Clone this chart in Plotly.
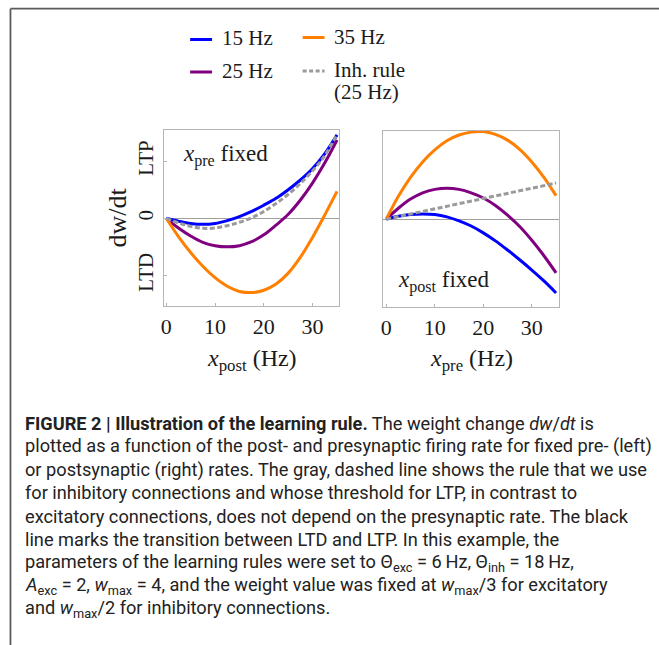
import plotly.graph_objects as go

W, H = 659, 645

# Firing rates (Hz) at which the curves are sampled
rate = [0, 2.5, 5, 7.5, 10, 12.5, 15, 17.5, 20, 22.5, 25, 27.5, 30, 32.5, 35]

# Left panel: dw/dt vs postsynaptic rate, presynaptic rate fixed
post_15 = [0, -0.05, -0.09, -0.105, -0.09, -0.04, 0.03, 0.12, 0.23, 0.35, 0.50, 0.67, 0.87, 1.13, 1.46]
post_25 = [0, -0.17, -0.31, -0.42, -0.48, -0.50, -0.48, -0.41, -0.29, -0.12, 0.07, 0.32, 0.62, 0.97, 1.37]
post_35 = [0, -0.32, -0.60, -0.84, -1.04, -1.19, -1.28, -1.30, -1.26, -1.15, -0.96, -0.68, -0.33, 0.06, 0.47]
post_inh = [0, -0.08, -0.14, -0.175, -0.17, -0.13, -0.07, 0.01, 0.12, 0.26, 0.42, 0.61, 0.83, 1.10, 1.47]

# Right panel: dw/dt vs presynaptic rate, postsynaptic rate fixed
pre_15 = [0, 0.05, 0.08, 0.09, 0.08, 0.04, -0.03, -0.12, -0.24, -0.38, -0.54, -0.71, -0.89, -1.08, -1.29]
pre_25 = [0, 0.19, 0.35, 0.46, 0.52, 0.54, 0.52, 0.46, 0.37, 0.24, 0.07, -0.13, -0.37, -0.64, -0.94]
pre_35 = [0, 0.40, 0.73, 1.00, 1.21, 1.37, 1.47, 1.52, 1.53, 1.48, 1.38, 1.22, 1.00, 0.73, 0.41]
inh_rate = [0, 35]
pre_inh = [0, 0.63]

series_labels = ["15 Hz", "25 Hz", "35 Hz", "Inh. rule"]
inh_note = "(25 Hz)"
series_colors = ["#0000ff", "#800080", "#ff7f00", "#9a9a9a"]

y_ticks = [-1, 0, 1]
y_tick_text = ["LTD", "0", "LTP"]
x_ticks = [0, 10, 20, 30]

caption_lines = [
    "<b>FIGURE 2 | Illustration of the learning rule.</b> The weight change <i>dw</i>/<i>dt</i> is",
    "plotted as a function of the post- and presynaptic firing rate for fixed pre- (left)",
    "or postsynaptic (right) rates. The gray, dashed line shows the rule that we use",
    "for inhibitory connections and whose threshold for LTP, in contrast to",
    "excitatory connections, does not depend on the presynaptic rate. The black",
    "line marks the transition between LTD and LTP. In this example, the",
    "parameters of the learning rules were set to \u0398<sub>exc</sub> = 6\u2009Hz, \u0398<sub>inh</sub> = 18\u2009Hz,",
    "<i>A</i><sub>exc</sub> = 2, <i>w</i><sub>max</sub> = 4, and the weight value was fixed at <i>w</i><sub>max</sub>/3 for excitatory",
    "and <i>w</i><sub>max</sub>/2 for inhibitory connections.",
]

SERIF = "Liberation Serif, Times New Roman, serif"
SANS = "Roboto, Arial, sans-serif"
INK = "#1a1a1a"


def px(x):
    return x / W


def py(y):
    return 1 - y / H


fig = go.Figure()

left_sets = [post_15, post_25, post_35]
right_sets = [pre_15, pre_25, pre_35]
for vals, col in zip(left_sets, series_colors[:3]):
    fig.add_trace(go.Scatter(x=rate, y=vals, mode="lines", line=dict(color=col, width=3, shape="spline"),
                             xaxis="x", yaxis="y", showlegend=False))
fig.add_trace(go.Scatter(x=rate, y=post_inh, mode="lines",
                         line=dict(color=series_colors[3], width=3, dash="5px,2.5px", shape="spline"),
                         xaxis="x", yaxis="y", showlegend=False))
for vals, col in zip(right_sets, series_colors[:3]):
    fig.add_trace(go.Scatter(x=rate, y=vals, mode="lines", line=dict(color=col, width=3, shape="spline"),
                             xaxis="x2", yaxis="y2", showlegend=False))
fig.add_trace(go.Scatter(x=inh_rate, y=pre_inh, mode="lines",
                         line=dict(color=series_colors[3], width=3, dash="5px,2.5px"),
                         xaxis="x2", yaxis="y2", showlegend=False))

axis_common = dict(showline=True, mirror=True, linecolor="#b5b5b5", linewidth=1, showgrid=False)
xcommon = dict(axis_common, zeroline=False, tickvals=x_ticks, ticks="inside", ticklen=3, tickcolor="#b5b5b5",
               tickfont=dict(family=SERIF, size=22, color=INK), ticklabelstandoff=1)
ycommon = dict(axis_common, range=[-1.535, 1.545], zeroline=True, zerolinecolor="#a0a0a0", zerolinewidth=1)

fig.update_layout(
    width=W, height=H, margin=dict(l=0, r=0, t=0, b=0),
    paper_bgcolor="white", plot_bgcolor="white", showlegend=False,
    xaxis=dict(xcommon, domain=[px(161.7), px(338)], range=[-0.47, 35.5], anchor="y"),
    yaxis=dict(ycommon, domain=[py(306), py(130)], anchor="x", tickvals=y_ticks, ticktext=y_tick_text,
               tickangle=-90, ticks="inside", ticklen=3, tickcolor="#b5b5b5",
               tickfont=dict(family=SERIF, size=21, color=INK), ticklabelstandoff=2),
    xaxis2=dict(xcommon, domain=[px(381.7), px(559)], range=[-0.68, 35.7], anchor="y2"),
    yaxis2=dict(ycommon, domain=[py(307), py(130.7)], anchor="x2", showticklabels=False, ticks=""),
)

annotations = []
shapes = []

# Panel labels and axis titles
annotations += [
    dict(text="<i>x</i><sub>pre</sub> fixed", x=px(179), y=py(155), xanchor="left", yanchor="middle",
         font=dict(family=SERIF, size=23, color=INK)),
    dict(text="<i>x</i><sub>post</sub> fixed", x=px(395), y=py(281), xanchor="left", yanchor="middle",
         font=dict(family=SERIF, size=23, color=INK)),
    dict(text="<i>x</i><sub>post</sub> (Hz)", x=px(249.8), y=py(360), xanchor="center", yanchor="middle",
         font=dict(family=SERIF, size=24, color=INK)),
    dict(text="<i>x</i><sub>pre</sub> (Hz)", x=px(470.3), y=py(360), xanchor="center", yanchor="middle",
         font=dict(family=SERIF, size=24, color=INK)),
    dict(text="dw/dt", x=px(115), y=py(217), xanchor="center", yanchor="middle", textangle=-90,
         font=dict(family=SERIF, size=26, color=INK)),
]

# Legend in two columns
legend_pos = [(188, 39.5), (188, 72), (301, 37.5), (301, 71)]
for (lx, ly), label, col, i in zip(legend_pos, series_labels, series_colors, range(4)):
    shapes.append(dict(type="line", xref="paper", yref="paper", x0=px(lx), x1=px(lx + 22), y0=py(ly), y1=py(ly),
                       line=dict(color=col, width=3, dash="4px,2.5px" if i == 3 else "solid")))
    annotations.append(dict(text=label, x=px(lx + 30), y=py(ly - 1), xanchor="left", yanchor="middle",
                            font=dict(family=SERIF, size=21, color=INK)))
annotations.append(dict(text=inh_note, x=px(365), y=py(92), xanchor="center", yanchor="middle",
                        font=dict(family=SERIF, size=21, color=INK)))

# Caption
for k, line in enumerate(caption_lines):
    annotations.append(dict(text=line, x=px(20), y=py(423 + 23.25 * k), xanchor="left", yanchor="middle",
                            font=dict(family=SANS, size=18.2, color="#222222")))

for a in annotations:
    a.update(xref="paper", yref="paper", showarrow=False)

# Figure frame
shapes += [
    dict(type="line", xref="paper", yref="paper", x0=px(7.5), x1=1, y0=py(8.7), y1=py(8.7),
         line=dict(color="#5a5a5a", width=1.8)),
    dict(type="line", xref="paper", yref="paper", x0=px(7.5), x1=px(7.5), y0=py(8.7), y1=0,
         line=dict(color="#5a5a5a", width=1.8)),
]

fig.update_layout(annotations=annotations, shapes=shapes)
fig.write_html("out.html")
